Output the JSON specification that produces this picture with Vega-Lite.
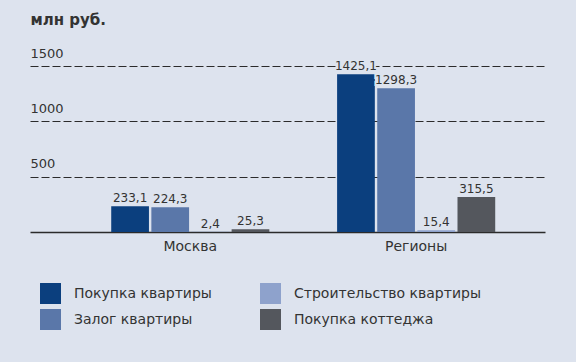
{
  "$schema": "https://vega.github.io/schema/vega-lite/v6.json",
  "width": 515,
  "height": 166,
  "autosize": {"type": "none"},
  "padding": {"left": 30, "top": 66, "right": 31, "bottom": 130},
  "background": "#dde3ee",
  "config": {
    "view": {"stroke": null},
    "font": "DejaVu Sans",
    "text": {"font": "DejaVu Sans"}
  },
  "data": {
    "values": [
      {"region": "Москва", "type": "Покупка квартиры", "value": 233.1, "label": "233,1"},
      {"region": "Москва", "type": "Залог квартиры", "value": 224.3, "label": "224,3"},
      {"region": "Москва", "type": "Строительство квартиры", "value": 2.4, "label": "2,4"},
      {"region": "Москва", "type": "Покупка коттеджа", "value": 25.3, "label": "25,3"},
      {"region": "Регионы", "type": "Покупка квартиры", "value": 1425.1, "label": "1425,1"},
      {"region": "Регионы", "type": "Залог квартиры", "value": 1298.3, "label": "1298,3"},
      {"region": "Регионы", "type": "Строительство квартиры", "value": 15.4, "label": "15,4"},
      {"region": "Регионы", "type": "Покупка коттеджа", "value": 315.5, "label": "315,5"}
    ]
  },
  "encoding": {
    "x": {
      "field": "region", "type": "nominal", "sort": ["Москва", "Регионы"],
      "scale": {"paddingInner": 0.3, "paddingOuter": 0.29, "align": 0.62},
      "axis": {"title": null, "labelAngle": 0, "domainColor": "#2b2b2b", "domainWidth": 1.5, "ticks": false, "labelPadding": 7, "labelFontSize": 14, "labelColor": "#333333"}
    },
    "xOffset": {
      "field": "type", "type": "nominal",
      "sort": ["Покупка квартиры", "Залог квартиры", "Строительство квартиры", "Покупка коттеджа"],
      "scale": {"paddingInner": 0.06, "paddingOuter": 0}
    },
    "y": {
      "field": "value", "type": "quantitative",
      "scale": {"domain": [0, 1500], "nice": false},
      "axis": {
        "values": [500, 1000, 1500], "format": "d",
        "domain": false, "ticks": false,
        "grid": true, "gridDash": [8, 3], "gridColor": "#2b2b2b", "gridWidth": 1, "gridOpacity": 1,
        "labelAlign": "left", "labelPadding": 0, "labelBaseline": "bottom", "labelOffset": -6,
        "labelFontSize": 13, "labelColor": "#333333",
        "title": "млн руб.", "titleAngle": 0, "titleX": 0, "titleY": -42, "titleAlign": "left",
        "titleBaseline": "alphabetic", "titleFontSize": 15, "titleFontWeight": "bold", "titleColor": "#333333"
      }
    }
  },
  "layer": [
    {
      "mark": {"type": "bar"},
      "encoding": {
        "color": {
          "field": "type", "type": "nominal",
          "scale": {
            "domain": ["Покупка квартиры", "Залог квартиры", "Строительство квартиры", "Покупка коттеджа"],
            "range": ["#0b3f7e", "#5a77a9", "#8ea2cc", "#54575d"]
          },
          "legend": {
            "title": null, "orient": "none", "legendX": 10, "legendY": 217,
            "columns": 2, "columnPadding": 48, "rowPadding": 5,
            "symbolType": "square", "symbolSize": 440, "symbolStrokeWidth": 0, "symbolOpacity": 1,
            "labelFontSize": 14, "labelColor": "#333333", "labelOffset": 13, "labelLimit": 300
          }
        }
      }
    },
    {
      "mark": {"type": "text", "dy": -8, "fontSize": 12, "stroke": "#dde3ee", "strokeWidth": 4, "color": "#dde3ee"},
      "encoding": {"text": {"field": "label"}}
    },
    {
      "mark": {"type": "text", "dy": -8, "fontSize": 12, "color": "#333333"},
      "encoding": {"text": {"field": "label"}}
    }
  ]
}
